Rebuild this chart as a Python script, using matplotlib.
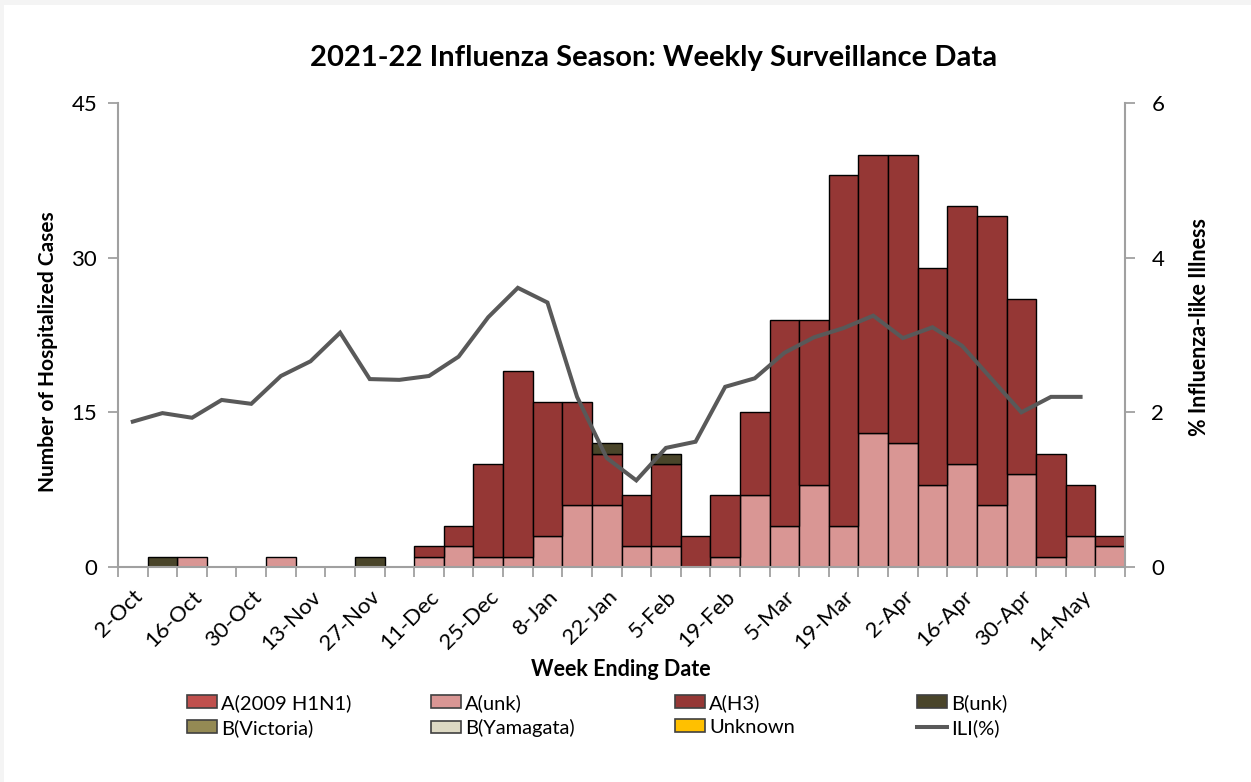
import numpy as np
import matplotlib
matplotlib.use('Agg')
import matplotlib.pyplot as plt
import matplotlib.patches as mpatches
from matplotlib.lines import Line2D

# 1 - Data

weeks = ['2-Oct', '9-Oct', '16-Oct', '23-Oct', '30-Oct', '6-Nov', '13-Nov', '20-Nov',
         '27-Nov', '4-Dec', '11-Dec', '18-Dec', '25-Dec', '1-Jan', '8-Jan', '15-Jan',
         '22-Jan', '29-Jan', '5-Feb', '12-Feb', '19-Feb', '26-Feb', '5-Mar', '12-Mar',
         '19-Mar', '26-Mar', '2-Apr', '9-Apr', '16-Apr', '23-Apr', '30-Apr', '7-May',
         '14-May', '21-May']

a_h1n1 = [0] * 34
a_unk = [0, 0, 1, 0, 0, 1, 0, 0, 0, 0, 1, 2, 1, 1, 3, 6, 6, 2, 2, 0, 1, 7, 4, 8,
         4, 13, 12, 8, 10, 6, 9, 1, 3, 2]
a_h3 = [0, 0, 0, 0, 0, 0, 0, 0, 0, 0, 1, 2, 9, 18, 13, 10, 5, 5, 8, 3, 6, 8, 20, 16,
        34, 27, 28, 21, 25, 28, 17, 10, 5, 1]
b_unk = [0, 1, 0, 0, 0, 0, 0, 0, 1, 0, 0, 0, 0, 0, 0, 0, 1, 0, 1, 0, 0, 0, 0, 0,
         0, 0, 0, 0, 0, 0, 0, 0, 0, 0]
b_vic = [0] * 34
b_yam = [0] * 34
unknown = [0] * 34

ili = [1.88, 1.99, 1.93, 2.16, 2.11, 2.47, 2.66, 3.03, 2.43, 2.42, 2.47, 2.72, 3.23,
       3.61, 3.42, 2.20, 1.41, 1.12, 1.54, 1.62, 2.33, 2.44, 2.77, 2.97, 3.09, 3.25,
       2.96, 3.10, 2.86, 2.43, 2.00, 2.20, 2.20, np.nan]

series = [('A(2009 H1N1)', a_h1n1, '#C0504D'),
          ('A(unk)', a_unk, '#D99694'),
          ('A(H3)', a_h3, '#953735'),
          ('B(unk)', b_unk, '#4A452A'),
          ('B(Victoria)', b_vic, '#948A54'),
          ('B(Yamagata)', b_yam, '#DDD9C3'),
          ('Unknown', unknown, '#FFC000')]

# 2 - Figure

plt.rcParams['font.family'] = ['Lato', 'DejaVu Sans']
axis_gray = '#A0A0A0'

fig = plt.figure(figsize=(12.51, 7.82), dpi=100)
fig.patch.set_facecolor('#F4F4F4')
fig.add_artist(mpatches.Rectangle((4 / 1251, 0), 1, 1 - 5 / 782, transform=fig.transFigure,
                                  facecolor='white', edgecolor='none', zorder=-10))

ax = fig.add_axes([118 / 1251, 215 / 782, (1125 - 118) / 1251, (567 - 103) / 782])
ax.set_facecolor('none')

x = np.arange(len(weeks))
bottom = np.zeros(len(weeks))
for name, vals, col in series:
    vals = np.array(vals, dtype=float)
    keep = vals > 0
    if keep.any():
        ax.bar(x[keep], vals[keep], bottom=bottom[keep], width=1.0, color=col,
               edgecolor='black', linewidth=1.0, zorder=2)
    bottom = bottom + vals

ax.set_xlim(-0.5, len(weeks) - 0.5)
ax.set_ylim(0, 45)
ax.set_yticks([0, 15, 30, 45])
ax.set_xticks(x[::2])
ax.set_xticklabels(weeks[::2], rotation=45, ha='right', rotation_mode='anchor')
ax.set_xticks(np.arange(-0.5, len(weeks)), minor=True)
ax.tick_params(axis='x', which='major', length=0, pad=14, labelsize=16)
ax.tick_params(axis='x', which='minor', length=7, width=1.3, color=axis_gray, direction='out')
ax.tick_params(axis='y', length=7, width=1.3, color=axis_gray, labelsize=16, pad=8)

for s in ['top', 'right']:
    ax.spines[s].set_visible(False)
for s in ['left', 'bottom']:
    ax.spines[s].set_color(axis_gray)
    ax.spines[s].set_linewidth(1.5)

# 3 - ILI line on the right axis

ax2 = ax.twinx()
ax2.plot(x, ili, color='#595959', linewidth=2.9, solid_joinstyle='miter', zorder=3)
ax2.set_ylim(0, 6)
ax2.set_yticks([0, 2, 4, 6])
ax2.tick_params(axis='y', length=7, width=1.3, color=axis_gray, labelsize=16, pad=12)
for s in ['top', 'left', 'bottom']:
    ax2.spines[s].set_visible(False)
ax2.spines['right'].set_color(axis_gray)
ax2.spines['right'].set_linewidth(1.5)

# 4 - Texts

fig.text(654 / 1251, 1 - 58 / 782, '2021-22 Influenza Season: Weekly Surveillance Data',
         ha='center', va='center', fontsize=21, fontweight='bold')
fig.text(48 / 1251, 1 - 352 / 782, 'Number of Hospitalized Cases', rotation=90,
         ha='center', va='center', fontsize=15, fontweight='bold')
fig.text(1200 / 1251, 1 - 327 / 782, '% Influenza-like Illness', rotation=90,
         ha='center', va='center', fontsize=15.5, fontweight='bold')
fig.text(621 / 1251, 1 - 670 / 782, 'Week Ending Date',
         ha='center', va='center', fontsize=15.5, fontweight='bold')

# 5 - Legend, one column at a time

handles = []
for name, vals, col in series:
    handles.append(mpatches.Patch(facecolor=col, edgecolor='#404040', linewidth=1.2, label=name))
handles.append(Line2D([0], [0], color='#595959', linewidth=2.9, label='ILI(%)'))

col_x = [187, 431, 675, 917]
for i in range(4):
    fig.legend(handles=[handles[i], handles[i + 4]], loc='upper left',
               bbox_to_anchor=(col_x[i] / 1251, 1 - 694 / 782), frameon=False,
               fontsize=14.5, handlelength=1.5, handleheight=0.6, handletextpad=0.2,
               labelspacing=0.35, borderpad=0, borderaxespad=0)

fig.savefig('out.png', dpi=100)
